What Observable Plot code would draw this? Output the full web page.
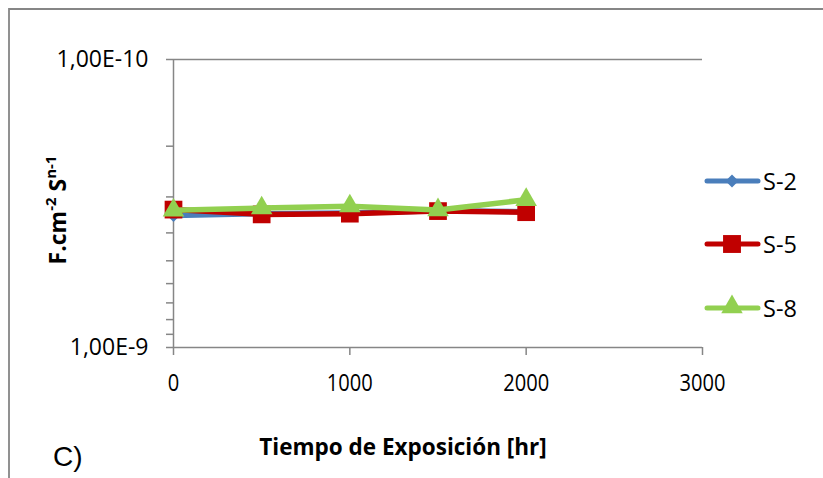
<!DOCTYPE html>
<html>
<head>
<meta charset="utf-8">
<script src="https://cdn.jsdelivr.net/npm/d3@7"></script>
<script src="https://cdn.jsdelivr.net/npm/@observablehq/plot@0.6"></script>
<style>
  html, body { margin: 0; padding: 0; background: #fff; }
  #chart { position: relative; width: 823px; height: 478px; overflow: hidden; }
</style>
</head>
<body>
<div id="chart"></div>
<script>
// Exposure time (hr) and capacitance values per sample
const times = [0, 500, 1000, 1500, 2000];
const s2 = [3.48e-10, 3.43e-10, 3.41e-10, 3.35e-10, 3.38e-10];
const s5 = [3.32e-10, 3.45e-10, 3.43e-10, 3.36e-10, 3.39e-10];
const s8 = [3.34e-10, 3.28e-10, 3.23e-10, 3.33e-10, 3.07e-10];

const seriesNames = ["S-2", "S-5", "S-8"];
const seriesColors = ["#4A7EBB", "#C00000", "#92D050"];
const xTicks = [0, 1000, 2000, 3000];
const yMajorTicks = [1e-10, 1e-9];
const yMinorTicks = [2e-10, 3e-10, 4e-10, 5e-10, 6e-10, 7e-10, 8e-10, 9e-10];

const seriesValues = [s2, s5, s8];
const rows = seriesValues.map((vals, i) =>
  times.map((t, j) => ({ series: seriesNames[i], t, v: vals[j] })));

const axisGray = "#868686";
const font = "'Open Sans', 'Liberation Sans', sans-serif";
const fmtExp = d => d.toExponential(2).replace(".", ",").replace("e", "E");

// marker styling per series
const markerOpts = [
  { symbol: "square", r: 5.2, rotate: 45 },   // diamond
  { symbol: "square", r: 10 },                // square
  { symbol: "triangle", r: 8 }                // triangle
];

const seriesMarks = rows.flatMap((data, i) => [
  Plot.line(data, { x: "t", y: "v", stroke: seriesColors[i], strokeWidth: 5.5, strokeLinejoin: "round", strokeLinecap: "round" }),
  Plot.dot(data, { x: "t", y: "v", fill: seriesColors[i], stroke: "none", ...markerOpts[i] })
]);

const chart = Plot.plot({
  width: 823,
  height: 478,
  marginLeft: 173,
  marginRight: 121,
  marginTop: 59,
  marginBottom: 131,
  style: { fontFamily: font, fontSize: "20px", color: "#000", background: "#fff", overflow: "visible" },
  x: { domain: [0, 3000], label: null },
  y: { type: "log", domain: [1e-10, 1e-9], reverse: true, label: null },
  marks: [
    Plot.ruleY(yMajorTicks, { x1: 0, x2: 3000, stroke: axisGray, strokeWidth: 1.5 }),
    Plot.ruleX([0], { y1: 1e-10, y2: 1e-9, stroke: axisGray, strokeWidth: 1.5 }),
    Plot.axisY({ ticks: yMinorTicks, tickSize: 7, tickFormat: () => "", stroke: axisGray, strokeWidth: 1.5, label: null }),
    Plot.axisY({ ticks: yMajorTicks, tickSize: 7, tickPadding: 18, tickFormat: fmtExp, stroke: axisGray, strokeWidth: 1.5, label: null, fontSize: 23 }),
    Plot.axisX({ ticks: xTicks, tickSize: 8, tickPadding: 18, tickFormat: d => String(d), stroke: axisGray, strokeWidth: 1.5, label: null, fontSize: 24.5 }),
    ...seriesMarks
  ]
});

document.getElementById("chart").appendChild(chart);

const svg = d3.select(chart);

// tick label sizing: y labels plain, x labels slightly condensed
svg.selectAll('g[aria-label="y-axis tick label"] text')
  .attr("font-size", 23);
svg.selectAll('g[aria-label="x-axis tick label"] text')
  .attr("font-size", 24.5)
  .each(function () {
    const n = this.textContent.length;
    d3.select(this).attr("textLength", n * 11.5).attr("lengthAdjust", "spacingAndGlyphs");
  });

// outer chart border (top and left edges visible)
svg.append("path")
  .attr("d", "M9,478V9H823")
  .attr("fill", "none")
  .attr("stroke", axisGray)
  .attr("stroke-width", 1.8);

// axis titles
svg.append("text")
  .attr("x", 403).attr("y", 455)
  .attr("text-anchor", "middle")
  .attr("font-family", font).attr("font-weight", "bold").attr("font-size", 22.5)
  .text("Tiempo de Exposición [hr]");

const yTitle = svg.append("text")
  .attr("transform", "translate(66,210) rotate(-90)")
  .attr("text-anchor", "middle")
  .attr("font-family", font).attr("font-weight", "bold").attr("font-size", 23);
yTitle.append("tspan").text("F.cm");
yTitle.append("tspan").attr("baseline-shift", "super").attr("font-size", 15).text("-2");
yTitle.append("tspan").text(" S");
yTitle.append("tspan").attr("baseline-shift", "super").attr("font-size", 15).text("n-1");

// panel tag
svg.append("text")
  .attr("x", 53).attr("y", 466)
  .attr("text-anchor", "start")
  .attr("font-family", "'Liberation Sans', Arial, sans-serif").attr("font-size", 28)
  .text("C)");

// legend
const legendY = [181, 244, 308];
const symbolGen = [
  d3.symbol(d3.symbolSquare, 85),
  d3.symbol(d3.symbolSquare, 320),
  d3.symbol(d3.symbolTriangle, 200)
];
const legend = svg.append("g");
seriesNames.forEach((name, i) => {
  const g = legend.append("g").attr("transform", `translate(0,${legendY[i]})`);
  g.append("line")
    .attr("x1", 707).attr("x2", 758).attr("y1", 0).attr("y2", 0)
    .attr("stroke", seriesColors[i]).attr("stroke-width", 5).attr("stroke-linecap", "round");
  g.append("path")
    .attr("d", symbolGen[i]())
    .attr("transform", `translate(732,${i === 2 ? -1 : 0})${i === 0 ? " rotate(45)" : ""}`)
    .attr("fill", seriesColors[i]);
  g.append("text")
    .attr("x", 763).attr("y", 1).attr("dy", "0.36em")
    .attr("text-anchor", "start")
    .attr("font-family", font).attr("font-size", 23.5)
    .text(name);
});
</script>
</body>
</html>
